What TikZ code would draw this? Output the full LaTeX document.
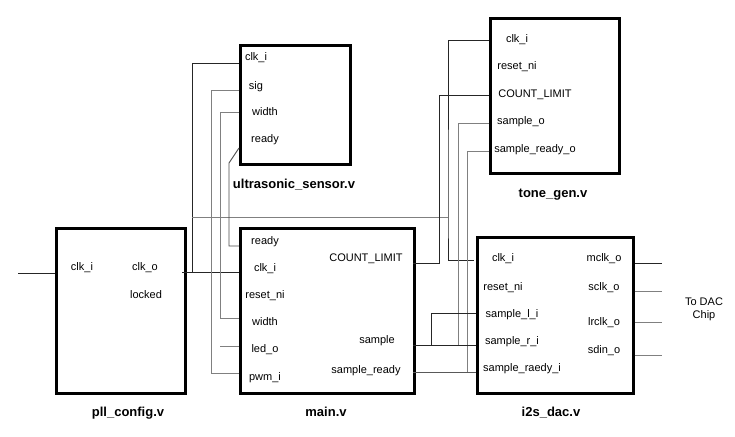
\documentclass[tikz,border=0pt]{standalone}
\usepackage{fontspec}
\setmainfont{Liberation Sans}
\begin{document}
\begin{tikzpicture}[x=1pt,y=-1pt]
\tikzset{
  blk/.style={draw, line width=2.6pt, inner sep=0, anchor=north west},
  port/.style={font=\fontsize{11}{13}\selectfont, inner sep=0, text height=8pt, text depth=2pt},
  title/.style={font=\fontsize{13}{15}\selectfont\bfseries, inner sep=0, text height=9.5pt, text depth=2.5pt},
  wire/.style={line width=0.9pt, black!85},
  gwire/.style={line width=0.9pt, black!50}
}
\useasboundingbox (0,0) rectangle (735,436);
\fill[white] (0,0) rectangle (735,436);

\node[blk, minimum width=110, minimum height=119] (us) at (239,44) {};
\node[blk, minimum width=129, minimum height=155] (tone) at (489,17) {};
\node[blk, minimum width=129, minimum height=165] (pll) at (55,227) {};
\node[blk, minimum width=174, minimum height=165] (main) at (239,227) {};
\node[blk, minimum width=156, minimum height=156] (dac) at (476,236) {};

\node[title] (us-name) at (294,185) {ultrasonic\_sensor.v};
\node[title] (tone-name) at (553,194) {tone\_gen.v};
\node[title] (pll-name) at (128,413) {pll\_config.v};
\node[title] (main-name) at (326,413) {main.v};
\node[title] (dac-name) at (551,413) {i2s\_dac.v};

\foreach \t/\x/\y [count=\i] in {clk\_i/256/57, sig/256/86, width/265/112, ready/265/139}
  \node[port] (us-p\i) at (\x,\y) {\t};
\foreach \t/\x/\y [count=\i] in {clk\_i/517/39, reset\_ni/517/67, COUNT\_LIMIT/535/94, sample\_o/521/121, sample\_ready\_o/535/149}
  \node[port] (tone-p\i) at (\x,\y) {\t};
\foreach \t/\x/\y [count=\i] in {clk\_i/82/267, clk\_o/145/267, locked/146/295}
  \node[port] (pll-p\i) at (\x,\y) {\t};
\foreach \t/\x/\y [count=\i] in {ready/265/241, clk\_i/265/268, reset\_ni/265/295, width/265/322, led\_o/265/349, pwm\_i/265/377, COUNT\_LIMIT/366/258, sample/377/340, sample\_ready/366/370}
  \node[port] (main-p\i) at (\x,\y) {\t};
\foreach \t/\x/\y [count=\i] in {clk\_i/503/258, reset\_ni/503/287, sample\_l\_i/512/314, sample\_r\_i/512/341, sample\_raedy\_i/522/368, mclk\_o/604/258, sclk\_o/604/287, lrclk\_o/604/322, sdin\_o/604/350}
  \node[port] (dac-p\i) at (\x,\y) {\t};
\node[port, align=center, text height=, text depth=] (chip) at (704,309) {To DAC\\Chip};

\coordinate (clkin) at (18,273);
\coordinate (pll-in) at (55,273);
\coordinate (pll-out) at (182,272);
\coordinate (clk-j) at (192,272);
\coordinate (clk-k) at (448,217);
\coordinate (main-clk) at (239,272);
\coordinate (us-clk) at (239,63);
\coordinate (us-sig) at (239,90);
\coordinate (us-width) at (239,112);
\coordinate (us-ready) at (239,148);
\coordinate (main-ready) at (239,246);
\coordinate (main-width) at (239,318);
\coordinate (main-led) at (239,346);
\coordinate (main-pwm) at (239,373);
\coordinate (main-cnt) at (413,263);
\coordinate (main-smp) at (413,345);
\coordinate (main-rdy) at (413,372);
\coordinate (tone-clk) at (489,40);
\coordinate (tone-cnt) at (489,95);
\coordinate (tone-smp) at (489,123);
\coordinate (tone-rdy) at (489,151);
\coordinate (dac-clk) at (474,260);
\coordinate (dac-l) at (476,313);
\coordinate (dac-r) at (476,345);
\coordinate (dac-rdy) at (476,372);

\draw[wire] (clkin) -- (pll-in);
\draw[wire] (pll-out) -- (main-clk);
\draw[wire] (us-clk) -| (clk-j);
\draw[gwire] (clk-j |- clk-k) -- (clk-k);
\draw[wire] (tone-clk) -| (clk-k) |- (dac-clk);
\draw[gwire] (us-sig) -- ++(-28,0) |- (main-pwm);
\draw[gwire] (us-width) -- ++(-19,0) |- (main-width);
\draw[wire, black!70] (us-ready) -- ++(-10,15) |- (main-ready);
\draw[gwire] (main-led) -- ++(-19,0);
\draw[wire] (main-cnt) -- ++(26,0) |- (tone-cnt);
\draw[gwire] (tone-smp) -- ++(-31,0) |- (main-smp);
\draw[gwire] (tone-rdy) -- ++(-22,0) |- (main-rdy);
\draw[wire] (main-smp) -- (dac-r);
\draw[wire] (main-smp) ++(18,0) |- (dac-l);
\draw[wire, black!65] (main-rdy) -- (dac-rdy);

\foreach \y/\c in {263/85, 291/50, 322/50, 355/50}
  \draw[wire, black!\c] (dac.east |- 0,\y) -- ++(27,0);
\end{tikzpicture}
\end{document}
